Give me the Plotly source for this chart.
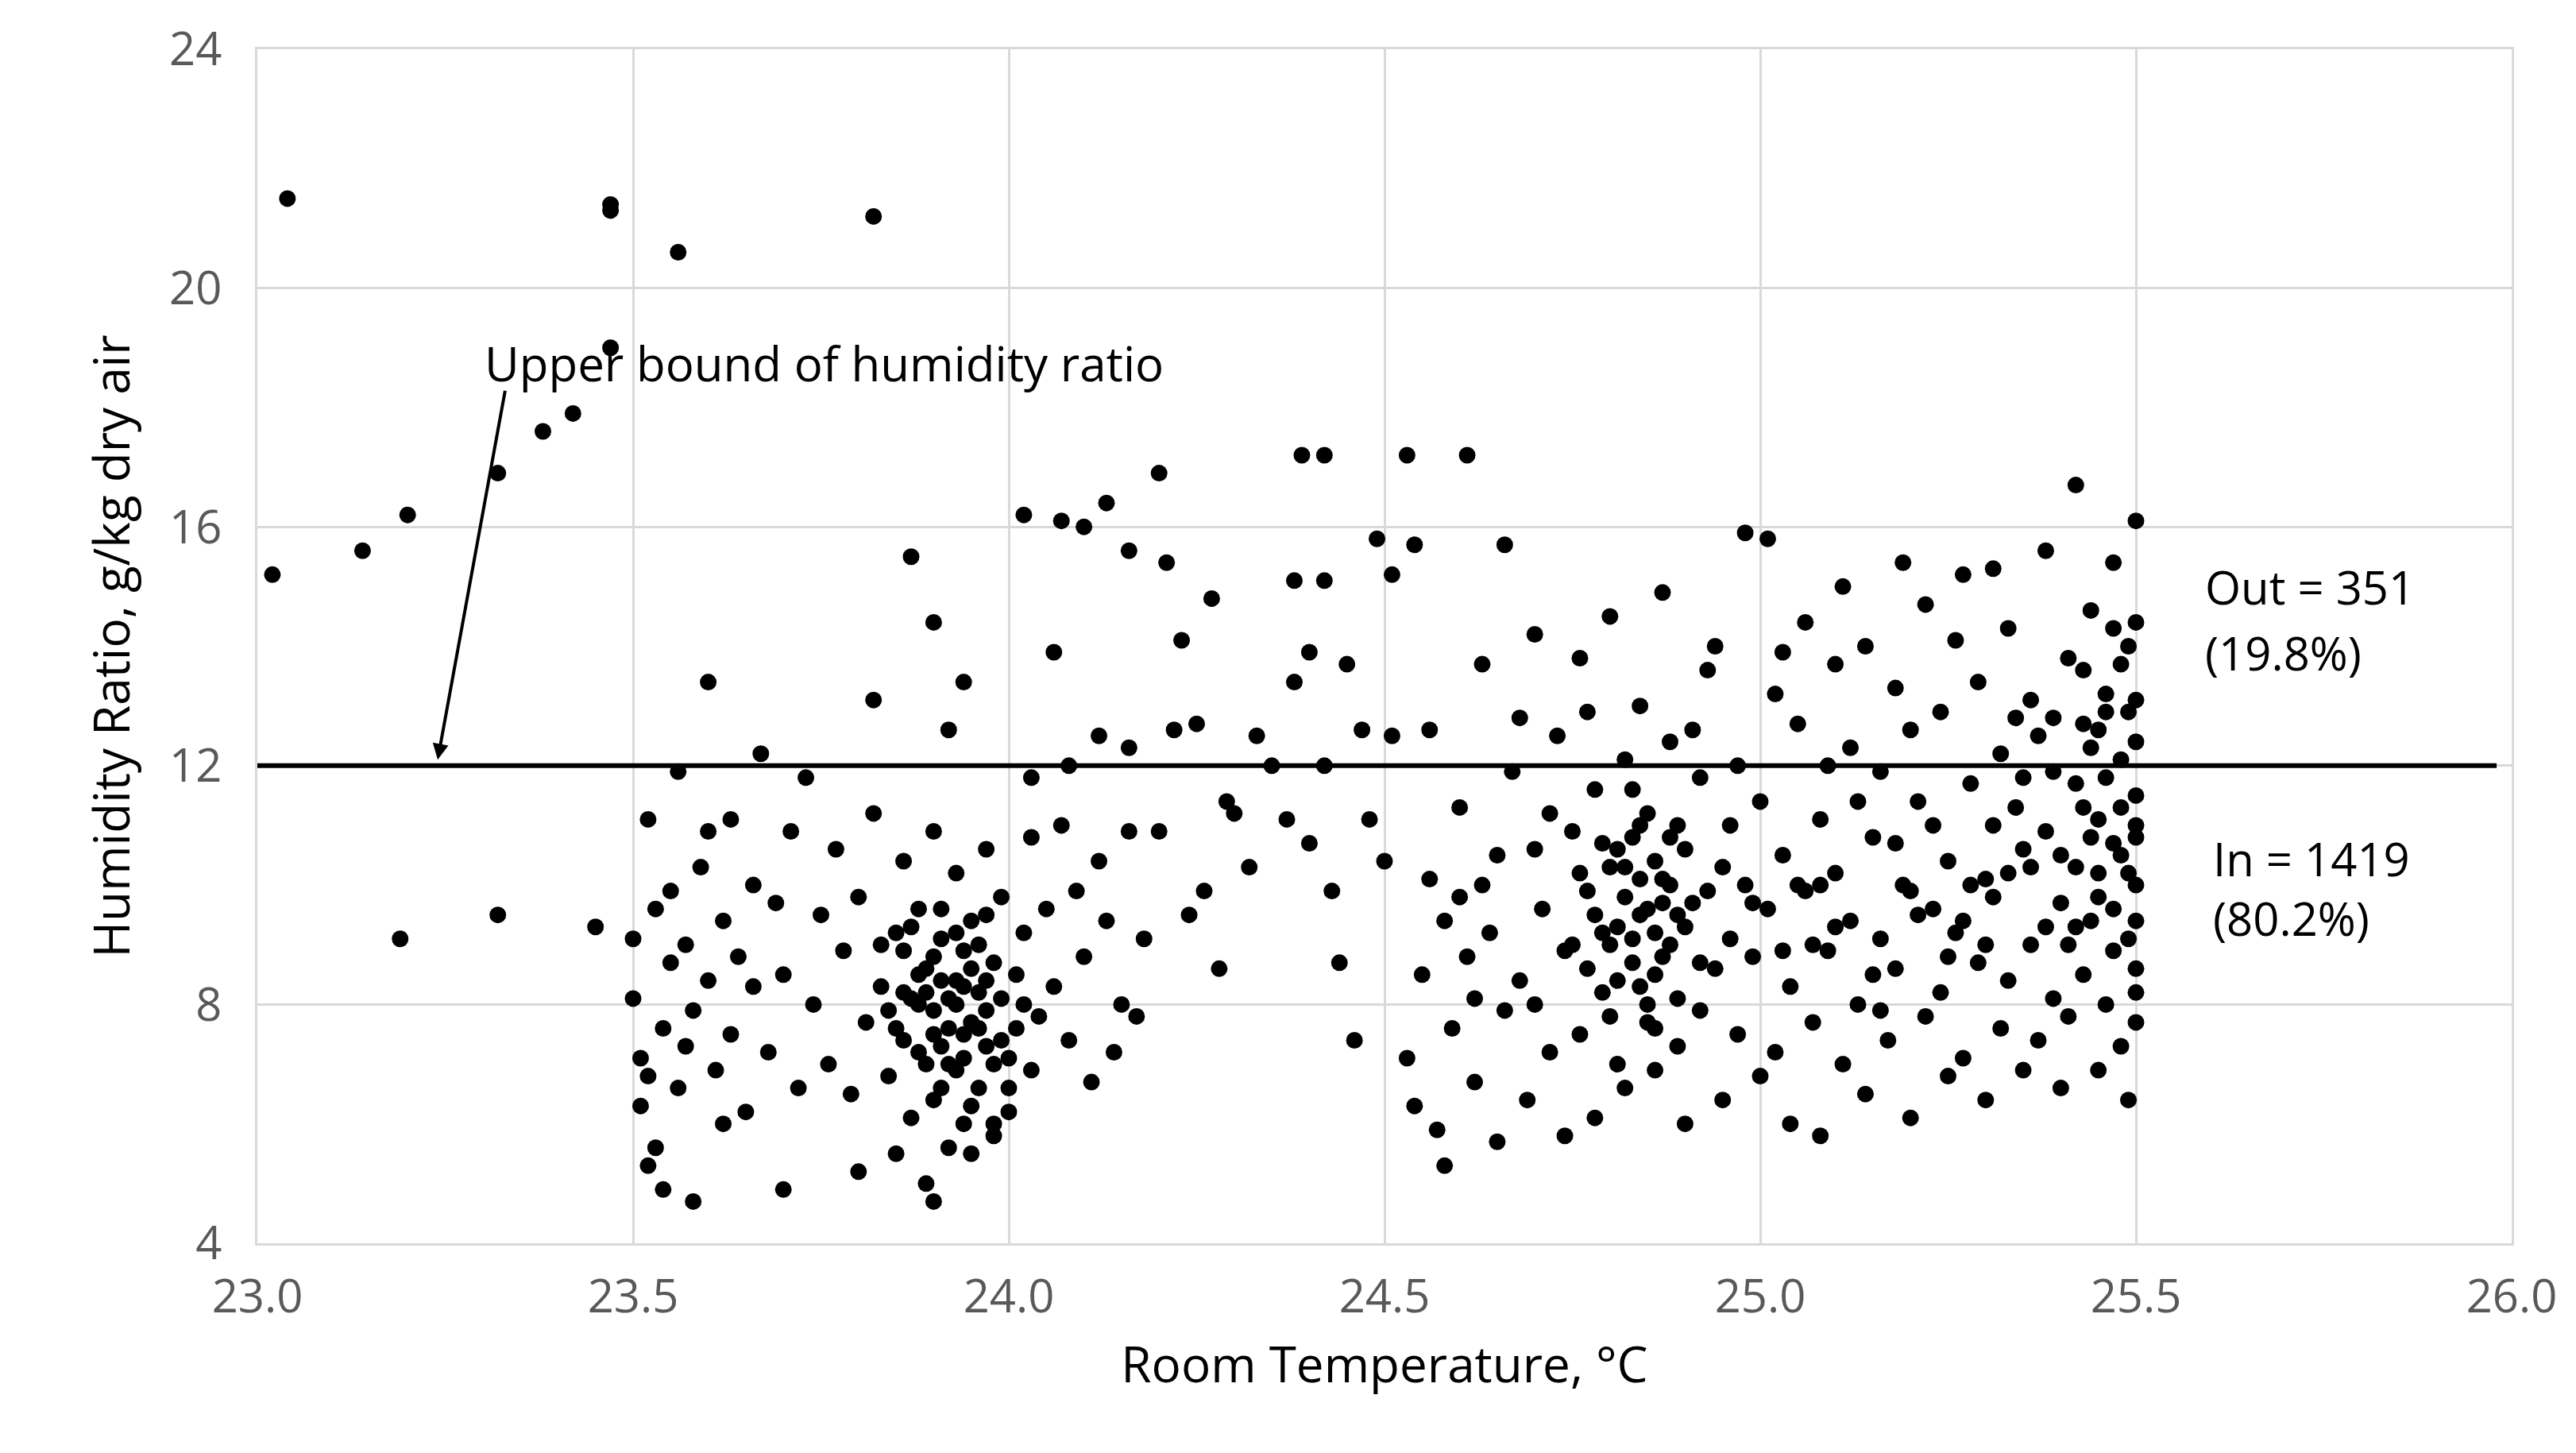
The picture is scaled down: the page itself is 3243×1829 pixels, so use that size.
import plotly.graph_objects as go

outliers = [(23.02,15.2),(23.04,21.5),(23.14,15.6),(23.19,9.1),(23.20,16.2),(23.32,16.9),(23.32,9.5),
(23.38,17.6),(23.42,17.9),(23.45,9.3),(23.47,21.4),(23.47,21.3),(23.47,19.0),(23.56,20.6),(23.82,21.2),
(23.87,15.5),(23.90,14.4),(23.94,13.4),(23.60,13.4),(23.82,13.1),(24.02,16.2),(24.07,16.1),(24.10,16.0),
(24.13,16.4),(24.20,16.9),(24.16,15.6),(24.21,15.4),(24.27,14.8),(24.23,14.1),(24.06,13.9),(24.39,17.2),
(24.42,17.2),(24.53,17.2),(24.61,17.2),(24.38,15.1),(24.42,15.1),(24.49,15.8),(24.54,15.7),(24.51,15.2),
(23.92,12.6),(24.08,12.0),(24.12,12.5),(24.16,12.3),(24.03,11.8)]

cluster_a = [(23.50,9.1),(23.50,8.1),(23.51,7.1),(23.51,6.3),(23.52,5.3),(23.52,11.1),(23.53,5.6),(23.53,9.6),
(23.54,7.6),(23.54,4.9),(23.55,8.7),(23.56,11.9),(23.56,6.6),(23.57,9.0),(23.58,7.9),(23.58,4.7),(23.59,10.3),
(23.60,8.4),(23.61,6.9),(23.62,9.4),(23.63,11.1),(23.63,7.5),(23.64,8.8),(23.65,6.2),(23.66,10.0),(23.67,12.2),
(23.68,7.2),(23.69,9.7),(23.70,8.5),(23.70,4.9),(23.71,10.9),(23.72,6.6),(23.73,11.8),(23.74,8.0),(23.75,9.5),
(23.76,7.0),(23.77,10.6),(23.78,8.9),(23.79,6.5),(23.80,9.8),(23.80,5.2),(23.81,7.7),(23.82,11.2),(23.83,8.3),
(23.84,6.8),(23.85,9.2),(23.85,5.5),(23.86,7.4),(23.86,10.4),(23.87,8.1),(23.87,6.1),(23.88,9.6),(23.88,7.2),
(23.89,8.6),(23.89,5.0),(23.90,7.9),(23.90,10.9),(23.90,6.4),(23.91,8.4),(23.91,9.1),(23.92,7.0),(23.92,5.6),
(23.93,8.0),(23.93,10.2),(23.94,7.5),(23.94,6.0),(23.94,8.9),(23.95,7.7),(23.95,9.4),(23.96,6.6),(23.96,8.2),
(23.97,10.6),(23.97,7.3),(23.98,5.8),(23.98,8.7),(23.99,9.8),(24.00,7.1),(24.00,6.2),(24.01,8.5),(24.02,9.2),
(24.03,10.8),(24.03,6.9),(24.04,7.8),(24.05,9.6),(24.06,8.3),(24.07,11.0),(24.08,7.4),(24.09,9.9),(24.10,8.8),
(24.11,6.7),(24.12,10.4),(24.13,9.4),(24.14,7.2),(24.15,8.0),(24.16,10.9),(24.17,7.8),(24.18,9.1),(23.92,7.6),
(23.93,8.4),(23.91,7.3),(23.95,8.6),(23.89,8.2),(23.97,7.9),(23.88,8.0),(23.94,7.1),(23.96,9.0),(23.90,8.8),
(23.86,8.9),(23.99,8.1),(23.84,7.9),(23.98,7.0),(23.87,9.3),(24.01,7.6),(23.52,6.8),(23.55,9.9),(23.57,7.3),
(23.60,10.9),(23.62,6.0),(23.66,8.3),(23.90,4.7),(23.95,5.5),(24.00,6.6),(23.93,6.9),(23.91,9.6),(23.97,8.4),
(23.92,8.1),(23.94,8.3),(23.90,7.5),(23.96,7.6),(23.88,8.5),(23.93,9.2),(23.89,7.0),(23.95,6.3),(23.86,8.2),
(23.99,7.4),(23.91,6.6),(23.97,9.5),(23.85,7.6),(24.02,8.0),(23.83,9.0),(23.98,6.0)]

middle = [(24.22,12.6),(24.25,12.7),(24.29,11.4),(24.32,10.3),(24.35,12.0),(24.37,11.1),(24.40,13.9),
(24.42,12.0),(24.40,10.7),(24.43,9.9),(24.45,13.7),(24.46,7.4),(24.47,12.6),(24.48,11.1),(24.28,8.6),
(24.20,10.9),(24.24,9.5),(24.26,9.9),(24.38,13.4),(24.33,12.5),(24.30,11.2),(24.44,8.7),(24.50,10.4),(24.51,12.5)]

cluster_b = [(24.53,7.1),(24.54,6.3),(24.55,8.5),(24.56,10.1),(24.56,12.6),(24.57,5.9),(24.58,9.4),(24.58,5.3),
(24.59,7.6),(24.60,11.3),(24.61,8.8),(24.62,6.7),(24.63,10.0),(24.63,13.7),(24.64,9.2),(24.65,5.7),(24.66,7.9),
(24.66,15.7),(24.67,11.9),(24.68,8.4),(24.69,6.4),(24.70,10.6),(24.70,14.2),(24.71,9.6),(24.72,7.2),(24.73,12.5),
(24.74,5.8),(24.74,8.9),(24.75,10.9),(24.76,13.8),(24.76,7.5),(24.77,9.9),(24.78,6.1),(24.78,11.6),(24.79,8.2),
(24.80,14.5),(24.80,10.3),(24.81,7.0),(24.81,9.3),(24.82,12.1),(24.82,6.6),(24.83,8.7),(24.83,10.8),(24.84,9.5),
(24.84,13.0),(24.85,7.7),(24.85,11.2),(24.86,8.5),(24.86,6.9),(24.87,10.1),(24.87,14.9),(24.88,9.0),(24.88,12.4),
(24.89,7.3),(24.89,8.1),(24.90,10.6),(24.90,6.0),(24.91,9.7),(24.92,11.8),(24.92,7.9),(24.93,13.6),(24.94,8.6),
(24.95,10.3),(24.95,6.4),(24.96,9.1),(24.97,12.0),(24.97,7.5),(24.98,15.9),(24.99,8.8),(25.00,11.4),(25.00,6.8),
(25.01,9.6),(25.02,13.2),(25.02,7.2),(25.03,10.5),(25.04,6.0),(25.04,8.3),(25.05,12.7),(25.06,9.9),(25.06,14.4),
(25.07,7.7),(25.08,11.1),(25.08,5.8),(25.09,8.9),(25.10,13.7),(25.10,10.2),(25.11,7.0),(25.12,9.4),(25.12,12.3),
(25.13,8.0),(25.14,14.0),(25.14,6.5),(25.15,10.8),(25.16,9.1),(25.16,11.9),(25.17,7.4),(25.18,13.3),(25.18,8.6),
(25.19,10.0),(25.20,6.1),(25.20,12.6),(25.21,9.5),(25.22,7.8),(25.22,14.7),(25.23,11.0),(25.24,8.2),(25.24,12.9),
(25.25,6.8),(25.25,10.4),(25.26,9.2),(25.27,15.2),(25.27,7.1),(25.28,11.7),(25.29,8.7),(25.29,13.4),(25.30,10.1),
(25.30,6.4),(25.31,9.8),(25.32,12.2),(25.32,7.6),(25.33,14.3),(25.33,8.4),(25.34,11.3),(25.35,10.6),(25.35,6.9),
(25.36,13.1),(25.36,9.0),(25.37,7.4),(25.37,12.5),(25.38,15.6),(25.38,10.9),(25.39,8.1),(25.39,11.9),(25.40,6.6),
(25.40,9.7),(25.41,13.8),(25.41,7.8),(25.42,10.3),(25.42,16.7),(25.43,12.7),(25.43,8.5),(25.44,14.6),(25.44,9.4),
(25.45,11.1),(25.45,6.9),(25.46,13.2),(25.46,8.0),(25.47,10.7),(25.47,15.4),(25.48,7.3),(25.48,12.1),(25.49,9.1),
(25.49,14.0),(25.50,11.5),(25.50,8.6),(25.50,13.1),(25.50,10.0),(25.50,7.7),(25.50,12.4),(25.50,9.4),(25.50,16.1),
(25.49,6.4),(25.48,10.5),(25.47,8.9),(25.46,11.8),(25.50,14.4),(25.50,8.2),(25.49,12.9),(24.80,9.0),(24.82,9.8),
(24.84,8.3),(24.86,10.4),(24.78,9.5),(24.88,10.0),(24.76,10.2),(24.90,9.3),(24.83,11.6),(24.85,9.6),(24.79,10.7),
(24.87,8.8),(24.81,8.4),(24.89,11.0),(24.75,9.0),(24.93,9.9),(25.05,10.0),(25.10,9.3),(25.15,8.5),(25.20,9.9),
(25.25,8.8),(25.30,9.0),(25.35,11.8),(25.40,10.5),(25.45,9.8),(25.42,11.7),(25.38,9.3),(25.33,10.2),(25.28,10.0),
(25.23,9.6),(25.18,10.7),(25.13,11.4),(25.08,10.0),(25.03,8.9),(24.98,10.0),(24.96,11.0),(24.60,9.8),(24.65,10.5),
(24.70,8.0),(24.72,11.2),(24.68,12.8),(24.62,8.1),(24.77,12.9),(24.91,12.6),(24.94,14.0),(25.01,15.8),(25.03,13.9),
(25.11,15.0),(25.19,15.4),(25.26,14.1),(25.31,15.3),(25.34,12.8),(25.44,12.3),(25.48,13.7),(25.50,10.8),(25.50,11.0),
(25.47,9.6),(25.45,10.2),(25.43,11.3),(25.41,9.0),(25.39,12.8),(25.36,10.3),(25.31,11.0),(25.27,9.4),(25.21,11.4),
(25.16,7.9),(25.09,12.0),(25.07,9.0),(24.99,9.7),(24.92,8.7),(24.86,9.2),(24.84,10.1),(24.81,10.6),(24.77,8.6),
(24.83,9.1),(24.85,8.0),(24.87,9.7),(24.80,7.8),(24.88,10.8),(24.82,10.3),(24.79,9.2),(24.86,7.6),(24.84,11.0),
(24.89,9.5),(25.45,12.6),(25.48,11.3),(25.44,10.8),(25.49,10.2),(25.46,12.9),(25.42,9.3),(25.47,14.3),(25.43,13.6)]

temps = [p[0] for p in outliers + cluster_a + middle + cluster_b]
hums = [p[1] for p in outliers + cluster_a + middle + cluster_b]

bound_x = [23.0, 25.98]
bound_y = [12, 12]

x_ticks = [23.0, 23.5, 24.0, 24.5, 25.0, 25.5, 26.0]
y_ticks = [4, 8, 12, 16, 20, 24]

fig = go.Figure()
fig.add_trace(go.Scatter(x=temps, y=hums, mode="markers",
                         marker=dict(color="black", size=21), showlegend=False))
fig.add_trace(go.Scatter(x=bound_x, y=bound_y, mode="lines",
                         line=dict(color="black", width=6), showlegend=False))

font = "Open Sans"
fs = 58
fig.add_annotation(x=23.24, y=12.1, ax=23.33, ay=18.3, xref="x", yref="y", axref="x", ayref="y",
                   showarrow=True, arrowhead=2, arrowsize=1.0, arrowwidth=4, arrowcolor="black", text="")
fig.add_annotation(x=23.30, y=18.75, text="Upper bound of humidity ratio", showarrow=False,
                   xanchor="left", font=dict(size=60, color="black", family=font))
fig.add_annotation(x=25.59, y=15.0, text="Out = 351", showarrow=False, xanchor="left",
                   font=dict(size=fs, color="black", family=font))
fig.add_annotation(x=25.59, y=13.9, text="(19.8%)", showarrow=False, xanchor="left",
                   font=dict(size=fs, color="black", family=font))
fig.add_annotation(x=25.60, y=10.45, text="In = 1419", showarrow=False, xanchor="left",
                   font=dict(size=fs, color="black", family=font))
fig.add_annotation(x=25.60, y=9.45, text="(80.2%)", showarrow=False, xanchor="left",
                   font=dict(size=fs, color="black", family=font))

fig.update_layout(width=3243, height=1829, plot_bgcolor="white", paper_bgcolor="white",
                  margin=dict(l=316, r=89, t=52, b=272), font=dict(family=font))
fig.update_xaxes(range=[23.0, 26.0], tickvals=x_ticks, ticktext=[f"{v:.1f}" for v in x_ticks],
                 showgrid=True, gridcolor="#d9d9d9", gridwidth=3, zeroline=False,
                 showline=True, linecolor="#d9d9d9", linewidth=3, mirror=True,
                 tickfont=dict(size=fs, color="#595959"), ticklabelstandoff=14,
                 title=dict(text="Room Temperature, °C", font=dict(size=62, color="black"), standoff=30))
fig.update_yaxes(range=[4, 24], tickvals=y_ticks, showgrid=True, gridcolor="#d9d9d9", gridwidth=3,
                 zeroline=False, showline=True, linecolor="#d9d9d9", linewidth=3, mirror=True,
                 tickfont=dict(size=fs, color="#595959"), ticklabelstandoff=30,
                 title=dict(text="Humidity Ratio, g/kg dry air", font=dict(size=62, color="black"), standoff=30))
fig.write_html("out.html")
